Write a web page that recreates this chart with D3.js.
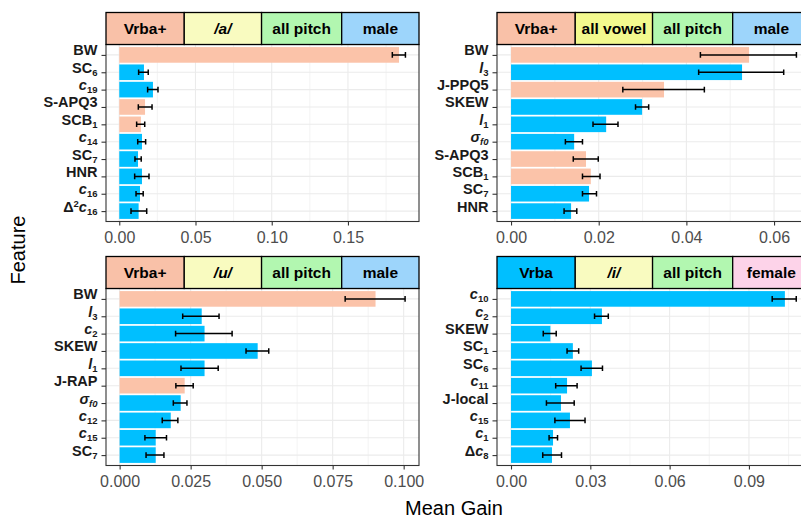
<!DOCTYPE html>
<html>
<head>
<meta charset="utf-8">
<script src="https://d3js.org/d3.v7.min.js"></script>
<style>
  body { margin: 0; background: #FFFFFF; }
  svg { display: block; font-family: "Liberation Sans", Arial, sans-serif; }
</style>
</head>
<body>
<svg id="chart" width="801" height="519"></svg>
<script>
// ---- data ----
// label markup: $..$ italic, _x subscript, ^x superscript
const p1Features = ["BW", "SC_6", "$c$_19", "S-APQ3", "SCB_1", "$c$_14", "SC_7", "HNR", "$c$_16", "Δ^2$c$_16"];
const p1Gain = [0.1835, 0.0162, 0.0221, 0.0169, 0.0142, 0.0149, 0.0123, 0.0149, 0.0136, 0.0127];
const p1Lo   = [0.1791, 0.0127, 0.0186, 0.0125, 0.0114, 0.0121, 0.0103, 0.0101, 0.0110, 0.0077];
const p1Hi   = [0.1877, 0.0190, 0.0254, 0.0215, 0.0167, 0.0173, 0.0144, 0.0195, 0.0157, 0.0180];
const p1Set  = ["Vrba+", "Vrba", "Vrba", "Vrba+", "Vrba+", "Vrba", "Vrba", "Vrba", "Vrba", "Vrba"];
const p1Strips = ["Vrba+", "/a/", "all pitch", "male"];
const p1Ticks = [0, 0.05, 0.10, 0.15];

const p2Features = ["BW", "$l$_3", "J-PPQ5", "SKEW", "$l$_1", "$σ$_$f0$", "S-APQ3", "SCB_1", "SC_7", "HNR"];
const p2Gain = [0.0543, 0.0527, 0.0349, 0.0299, 0.0217, 0.0144, 0.0171, 0.0182, 0.0178, 0.0137];
const p2Lo   = [0.0432, 0.0428, 0.0255, 0.0284, 0.0187, 0.0124, 0.0142, 0.0163, 0.0163, 0.0121];
const p2Hi   = [0.0651, 0.0622, 0.0441, 0.0314, 0.0244, 0.0163, 0.0199, 0.0203, 0.0195, 0.0150];
const p2Set  = ["Vrba+", "Vrba", "Vrba+", "Vrba", "Vrba", "Vrba", "Vrba+", "Vrba+", "Vrba", "Vrba"];
const p2Strips = ["Vrba+", "all vowel", "all pitch", "male"];
const p2Ticks = [0, 0.02, 0.04, 0.06];

const p3Features = ["BW", "$l$_3", "$c$_2", "SKEW", "$l$_1", "J-RAP", "$σ$_$f0$", "$c$_12", "$c$_15", "SC_7"];
const p3Gain = [0.0901, 0.0289, 0.0299, 0.0486, 0.0299, 0.0229, 0.0215, 0.0180, 0.0127, 0.0127];
const p3Lo   = [0.0794, 0.0222, 0.0197, 0.0445, 0.0216, 0.0198, 0.0189, 0.0150, 0.0089, 0.0093];
const p3Hi   = [0.1005, 0.0350, 0.0396, 0.0525, 0.0347, 0.0259, 0.0237, 0.0205, 0.0165, 0.0156];
const p3Set  = ["Vrba+", "Vrba", "Vrba", "Vrba", "Vrba", "Vrba+", "Vrba", "Vrba", "Vrba", "Vrba"];
const p3Strips = ["Vrba+", "/u/", "all pitch", "male"];
const p3Ticks = [0, 0.025, 0.050, 0.075, 0.100];

const p4Features = ["$c$_10", "$c$_2", "SKEW", "SC_1", "SC_6", "$c$_11", "J-local", "$c$_15", "$c$_1", "Δ$c$_8"];
const p4Gain = [0.1036, 0.0344, 0.0149, 0.0234, 0.0306, 0.0212, 0.0189, 0.0223, 0.0159, 0.0155];
const p4Lo   = [0.0988, 0.0316, 0.0122, 0.0212, 0.0265, 0.0169, 0.0134, 0.0166, 0.0144, 0.0120];
const p4Hi   = [0.1079, 0.0368, 0.0171, 0.0256, 0.0346, 0.0250, 0.0239, 0.0280, 0.0176, 0.0191];
const p4Set  = ["Vrba", "Vrba", "Vrba", "Vrba", "Vrba", "Vrba", "Vrba", "Vrba", "Vrba", "Vrba"];
const p4Strips = ["Vrba", "/i/", "all pitch", "female"];
const p4Ticks = [0, 0.03, 0.06, 0.09];

// ---- styling ----
const barColor = { "Vrba+": "#FBC3A9", "Vrba": "#00BFFF" };
const stripColor = {
  "Vrba+": "#F9C1A8", "Vrba": "#00BFFF",
  "/a/": "#F9FBC0", "/u/": "#F9FBC0", "/i/": "#F9FBC0", "all vowel": "#F3F98E",
  "all pitch": "#B2F7B0", "male": "#9DD5FB", "female": "#FDD3E9"
};
const stripSplits = [0, 0.25, 0.497, 0.753, 1];

const panels = [
  { f: p1Features, g: p1Gain, lo: p1Lo, hi: p1Hi, set: p1Set, strips: p1Strips, ticks: p1Ticks, fmt: ".2f", dom: [-0.0087, 0.1966], col: 0, row: 0 },
  { f: p2Features, g: p2Gain, lo: p2Lo, hi: p2Hi, set: p2Set, strips: p2Strips, ticks: p2Ticks, fmt: ".2f", dom: [-0.0032, 0.0682], col: 1, row: 0 },
  { f: p3Features, g: p3Gain, lo: p3Lo, hi: p3Hi, set: p3Set, strips: p3Strips, ticks: p3Ticks, fmt: ".3f", dom: [-0.0048, 0.1054], col: 0, row: 1 },
  { f: p4Features, g: p4Gain, lo: p4Lo, hi: p4Hi, set: p4Set, strips: p4Strips, ticks: p4Ticks, fmt: ".2f", dom: [-0.0053, 0.1131], col: 1, row: 1 }
];

const colX = [106, 497];
const panelW = 313;
const stripTop = [12.5, 256.5];
const stripH = 32;
const panelH = 177;

const svg = d3.select("#chart");

// split "Δ^2$c$_16" into styled pieces
function parseLabel(s) {
  const out = [];
  const re = /([_^]?)(\$[^$]+\$|[A-Za-z0-9\-]+|[^_^$]+)/g;
  let m;
  while ((m = re.exec(s)) !== null) {
    let body = m[2], italic = false;
    if (body.startsWith("$")) { italic = true; body = body.slice(1, -1); }
    out.push({ text: body, italic, pos: m[1] === "_" ? "sub" : m[1] === "^" ? "sup" : "base" });
  }
  return out;
}

function fillLabel(textSel, label) {
  textSel.text(null);
  let shift = 0;
  parseLabel(label).forEach(p => {
    const want = p.pos === "sub" ? 3 : p.pos === "sup" ? -5 : 0;
    textSel.append("tspan")
      .attr("dy", want - shift)
      .style("font-style", p.italic ? "italic" : "normal")
      .style("font-size", p.pos === "base" ? "14.5px" : "9.5px")
      .text(p.text);
    shift = want;
  });
}

panels.forEach(p => {
  const x0 = colX[p.col];
  const sTop = stripTop[p.row];
  const pTop = sTop + stripH;
  const pBottom = pTop + panelH;

  const x = d3.scaleLinear().domain(p.dom).range([x0, x0 + panelW]);
  const y = d3.scalePoint().domain(p.f).range([pTop, pBottom]).padding(0.6);
  const step = y.step();

  const g = svg.append("g");
  const clipId = "clip" + p.col + p.row;
  svg.append("clipPath").attr("id", clipId)
    .append("rect").attr("x", x0).attr("y", pTop).attr("width", panelW).attr("height", panelH);
  const body = g.append("g").attr("clip-path", `url(#${clipId})`);

  // grid
  const stepT = p.ticks[1] - p.ticks[0];
  const minor = [];
  for (let v = p.ticks[0] - stepT / 2; v <= p.dom[1]; v += stepT) if (v >= p.dom[0]) minor.push(v);
  body.selectAll(".minor").data(minor).join("line")
    .attr("x1", d => x(d)).attr("x2", d => x(d)).attr("y1", pTop).attr("y2", pBottom)
    .attr("stroke", "#EBEBEB").attr("stroke-width", 0.6);
  body.selectAll(".majorx").data(p.ticks).join("line")
    .attr("x1", d => x(d)).attr("x2", d => x(d)).attr("y1", pTop).attr("y2", pBottom)
    .attr("stroke", "#EBEBEB").attr("stroke-width", 1.1);
  body.selectAll(".majory").data(p.f).join("line")
    .attr("x1", x0).attr("x2", x0 + panelW).attr("y1", d => y(d)).attr("y2", d => y(d))
    .attr("stroke", "#EBEBEB").attr("stroke-width", 1.1);

  // bars
  body.selectAll(".bar").data(p.f).join("rect")
    .attr("x", x(0))
    .attr("y", d => y(d) - step * 0.45)
    .attr("width", (d, i) => x(p.g[i]) - x(0))
    .attr("height", step * 0.9)
    .attr("fill", (d, i) => barColor[p.set[i]]);

  // error bars
  const eb = body.selectAll(".err").data(p.f).join("g").attr("stroke", "#000").attr("stroke-width", 1.5);
  eb.append("line")
    .attr("x1", (d, i) => x(p.lo[i])).attr("x2", (d, i) => x(p.hi[i]))
    .attr("y1", d => y(d)).attr("y2", d => y(d));
  eb.append("line")
    .attr("x1", (d, i) => x(p.lo[i])).attr("x2", (d, i) => x(p.lo[i]))
    .attr("y1", d => y(d) - 2.8).attr("y2", d => y(d) + 2.8);
  eb.append("line")
    .attr("x1", (d, i) => x(p.hi[i])).attr("x2", (d, i) => x(p.hi[i]))
    .attr("y1", d => y(d) - 2.8).attr("y2", d => y(d) + 2.8);

  // panel border
  g.append("rect").attr("x", x0).attr("y", pTop).attr("width", panelW).attr("height", panelH)
    .attr("fill", "none").attr("stroke", "#333333").attr("stroke-width", 1.1);

  // x axis
  const xa = g.append("g").attr("transform", `translate(0,${pBottom})`)
    .call(d3.axisBottom(x).tickValues(p.ticks).tickFormat(d3.format(p.fmt)).tickSize(4).tickPadding(6.5));
  xa.select(".domain").remove();
  xa.selectAll("line").attr("stroke", "#333333").attr("stroke-width", 1.1);
  xa.selectAll("text").attr("fill", "#4D4D4D").style("font-size", "16px").style("font-family", "inherit");

  // y axis
  const ya = g.append("g").attr("transform", `translate(${x0},0)`)
    .call(d3.axisLeft(y).tickSize(4.5).tickPadding(4));
  ya.select(".domain").remove();
  ya.selectAll("line").attr("stroke", "#333333").attr("stroke-width", 1.1);
  ya.selectAll("text").attr("fill", "#1A1A1A").style("font-weight", "bold").style("font-family", "inherit")
    .each(function (d) { fillLabel(d3.select(this), d); });

  // strips
  p.strips.forEach((s, i) => {
    const sx = x0 + stripSplits[i] * panelW;
    const sw = (stripSplits[i + 1] - stripSplits[i]) * panelW;
    g.append("rect").attr("x", sx).attr("y", sTop).attr("width", sw).attr("height", stripH)
      .attr("fill", stripColor[s]).attr("stroke", "#000").attr("stroke-width", 1.3);
    g.append("text").attr("x", sx + sw / 2).attr("y", sTop + stripH / 2).attr("dy", "0.36em")
      .attr("text-anchor", "middle")
      .style("font-size", "15.5px").style("font-weight", "bold")
      .style("font-style", s.startsWith("/") ? "italic" : "normal")
      .attr("fill", "#000")
      .text(s);
  });
});

// axis titles
svg.append("text").attr("x", 454).attr("y", 515).attr("text-anchor", "middle")
  .style("font-size", "20px").attr("fill", "#000").text("Mean Gain");
svg.append("text").attr("transform", "translate(25,250) rotate(-90)").attr("text-anchor", "middle")
  .style("font-size", "20px").attr("fill", "#000").text("Feature");
</script>
</body>
</html>
